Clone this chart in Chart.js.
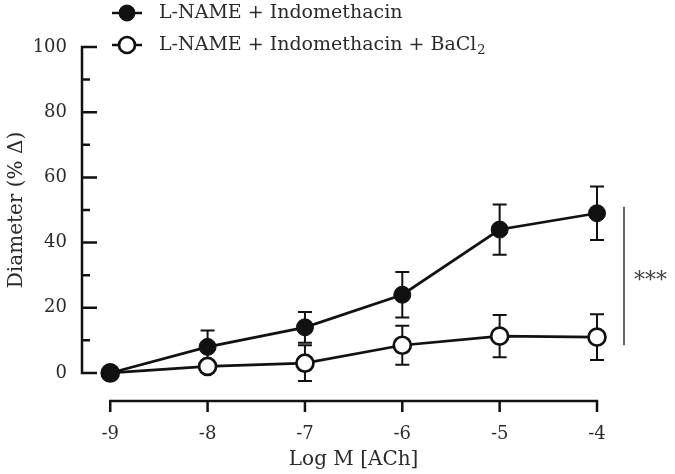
<!DOCTYPE html>
<html>
<head>
<meta charset="utf-8">
<script src="https://cdn.jsdelivr.net/npm/chart.js@4.4.0/dist/chart.umd.min.js"></script>
<style>
  html, body { margin: 0; padding: 0; background: #fff; }
</style>
</head>
<body>
<canvas id="mychart" width="675" height="474"></canvas>
<script>
// values
var doses = [-9, -8, -7, -6, -5, -4];
var ctrlMean = [0, 8, 14, 24, 44, 49];
var ctrlErr = [0, 5, 4.7, 7, 7.7, 8.2];
var baMean = [0, 2, 3, 8.5, 11.3, 11];
var baErr = [0, 1.5, 5.5, 6, 6.5, 7];
var seriesNames = ["L-NAME + Indomethacin", "L-NAME + Indomethacin + BaCl"];
var xTicks = [-9, -8, -7, -6, -5, -4];
var yTicks = [0, 20, 40, 60, 80, 100];
var yMinor = [10, 30, 50, 70, 90];
var sigRange = [8.5, 51];

var FONT = "'DejaVu Serif', serif";
var INK = "#111";
var TXT = "#2a2a2a";

function pts(means) {
    return doses.map(function(d, i){ return {x: d, y: means[i]}; });
}

var errorBars = {
    id: "errorBars",
    beforeDatasetsDraw: function(chart) {
        var c = chart.ctx, xs = chart.scales.x, ys = chart.scales.y;
        c.save();
        c.strokeStyle = INK;
        c.lineWidth = 2;
        chart.data.datasets.forEach(function(ds){
            ds.err.forEach(function(e, i){
                if (!e) return;
                var x = xs.getPixelForValue(doses[i]);
                var top = ys.getPixelForValue(ds.data[i].y + e);
                var bot = ys.getPixelForValue(ds.data[i].y - e);
                c.beginPath();
                c.moveTo(x, top); c.lineTo(x, bot);
                c.moveTo(x - 7, top); c.lineTo(x + 7, top);
                c.moveTo(x - 7, bot); c.lineTo(x + 7, bot);
                c.stroke();
            });
        });
        c.restore();
    }
};

var axesAndNotes = {
    id: "axesAndNotes",
    afterDraw: function(chart) {
        var c = chart.ctx, xs = chart.scales.x, ys = chart.scales.y, area = chart.chartArea;
        c.save();
        c.strokeStyle = INK;
        c.lineWidth = 2.5;
        c.lineCap = "butt";

        // y axis, ticks point inward
        var ax = area.left;
        c.beginPath();
        c.moveTo(ax, ys.getPixelForValue(100) - 1.25);
        c.lineTo(ax, ys.getPixelForValue(0) + 1.25);
        yTicks.forEach(function(v){
            var y = ys.getPixelForValue(v);
            c.moveTo(ax, y); c.lineTo(ax + 15, y);
        });
        yMinor.forEach(function(v){
            var y = ys.getPixelForValue(v);
            c.moveTo(ax, y); c.lineTo(ax + 8, y);
        });
        c.stroke();

        // x axis, offset below
        var ay = area.bottom;
        c.beginPath();
        c.moveTo(xs.getPixelForValue(-9) - 1.25, ay);
        c.lineTo(xs.getPixelForValue(-4) + 1.25, ay);
        xTicks.forEach(function(v){
            var x = xs.getPixelForValue(v);
            c.moveTo(x, ay); c.lineTo(x, ay + 11);
        });
        c.stroke();

        // axis titles
        c.fillStyle = TXT;
        c.font = "20px " + FONT;
        c.textAlign = "center";
        c.textBaseline = "middle";
        c.fillText("Log M [ACh]", (xs.getPixelForValue(-9) + xs.getPixelForValue(-4)) / 2, 460);
        c.save();
        c.translate(17, (ys.getPixelForValue(0) + ys.getPixelForValue(100)) / 2);
        c.rotate(-Math.PI / 2);
        c.fillText("Diameter (% \u0394)", 0, 0);
        c.restore();

        // significance bar
        var sx = area.right + 27;
        c.strokeStyle = "#333";
        c.lineWidth = 1.5;
        c.beginPath();
        c.moveTo(sx, ys.getPixelForValue(sigRange[1]));
        c.lineTo(sx, ys.getPixelForValue(sigRange[0]));
        c.stroke();
        c.fillStyle = "#444";
        c.textAlign = "left";
        c.font = "22px " + FONT;
        c.fillText("***", sx + 10, (ys.getPixelForValue(sigRange[0]) + ys.getPixelForValue(sigRange[1])) / 2 + 5);

        // legend
        chart.data.datasets.forEach(function(ds, i){
            var ly = 13 + 32 * i;
            c.strokeStyle = INK;
            c.lineWidth = 2.5;
            c.beginPath();
            c.moveTo(112, ly); c.lineTo(142, ly);
            c.stroke();
            c.beginPath();
            c.arc(127, ly, ds.pointRadius - 0.5, 0, Math.PI * 2);
            c.fillStyle = ds.pointBackgroundColor;
            c.fill();
            c.lineWidth = ds.pointBorderWidth;
            c.stroke();
            c.fillStyle = TXT;
            c.font = "19px " + FONT;
            c.textAlign = "left";
            c.fillText(seriesNames[i], 159, ly);
            if (i === 1) {
                var w = c.measureText(seriesNames[i]).width;
                c.font = "13px " + FONT;
                c.fillText("2", 159 + w + 1, ly + 6);
            }
        });
        c.restore();
    }
};

var ctx = document.getElementById("mychart").getContext("2d");
var chart = new Chart(ctx, {
    type: "line",
    data: {
        datasets: [
            {
                label: seriesNames[0],
                data: pts(ctrlMean),
                err: ctrlErr,
                borderColor: INK,
                borderWidth: 2.7,
                pointRadius: 8.5,
                pointBackgroundColor: INK,
                pointBorderColor: INK,
                pointBorderWidth: 1,
                clip: false
            },
            {
                label: seriesNames[1] + "2",
                data: pts(baMean),
                err: baErr,
                borderColor: INK,
                borderWidth: 2.7,
                pointRadius: 8.5,
                pointBackgroundColor: "#fff",
                pointBorderColor: INK,
                pointBorderWidth: 2.7,
                clip: false
            }
        ]
    },
    options: {
        responsive: false,
        animation: false,
        layout: { padding: { top: 47, right: 78 } },
        plugins: { legend: { display: false }, tooltip: { enabled: false } },
        scales: {
            x: {
                type: "linear",
                min: -9.29,
                max: -4,
                afterBuildTicks: function(s){ s.ticks = xTicks.map(function(v){ return {value: v}; }); },
                afterFit: function(s){ s.height = 73; },
                grid: { display: false, drawTicks: false },
                border: { display: false },
                ticks: { color: TXT, padding: 23, font: { family: FONT, size: 18 } }
            },
            y: {
                type: "linear",
                min: -8.6,
                max: 100,
                afterBuildTicks: function(s){ s.ticks = yTicks.map(function(v){ return {value: v}; }); },
                afterFit: function(s){ s.width = 82; },
                grid: { display: false, drawTicks: false },
                border: { display: false },
                ticks: { color: TXT, padding: 15, font: { family: FONT, size: 18 } }
            }
        }
    },
    plugins: [errorBars, axesAndNotes]
});
</script>
</body>
</html>
